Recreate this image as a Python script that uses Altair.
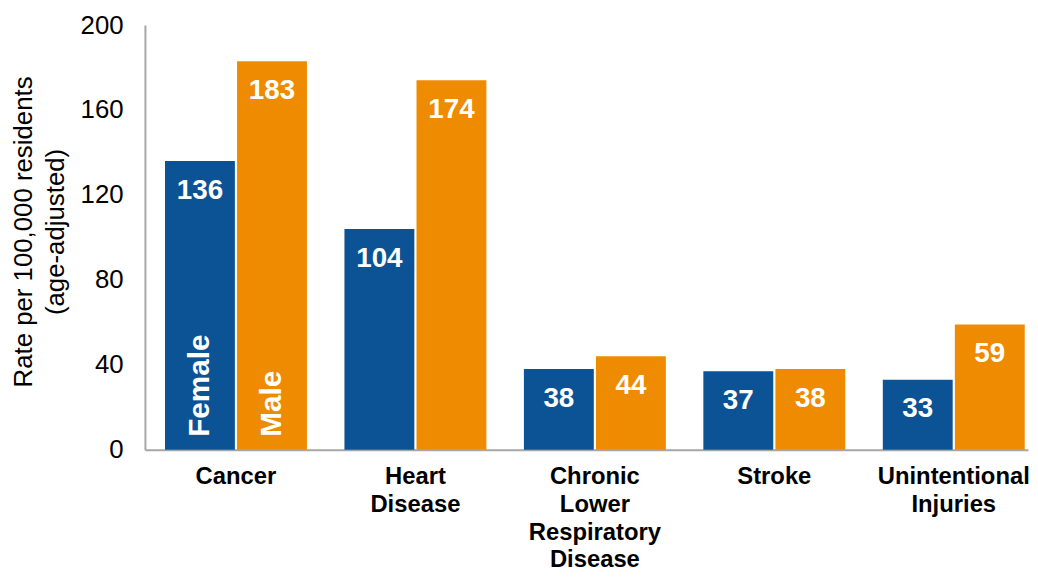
import altair as alt
import pandas as pd

# Data
categories = [
    "Cancer",
    "Heart\nDisease",
    "Chronic\nLower\nRespiratory\nDisease",
    "Stroke",
    "Unintentional\nInjuries",
]
female = [136, 104, 38, 37, 33]
male = [183, 174, 44, 38, 59]
sexes = ["Female", "Male"]
colors = ["#0B5394", "#EE8B00"]
y_ticks = [0, 40, 80, 120, 160, 200]
y_title = ["Rate per 100,000 residents", "(age-adjusted)"]

rows = []
for c, f, m in zip(categories, female, male):
    rows.append({"cause": c, "sex": "Female", "rate": f})
    rows.append({"cause": c, "sex": "Male", "rate": m})
df = pd.DataFrame(rows)

FONT = "Liberation Sans"

x_enc = alt.X(
    "cause:N",
    sort=categories,
    scale=alt.Scale(paddingInner=0.209, paddingOuter=0.065, align=0.86),
    axis=alt.Axis(
        title=None,
        labelAngle=0,
        labelExpr="split(datum.label, '\\n')",
        labelFont=FONT,
        labelFontSize=24,
        labelFontWeight="bold",
        labelColor="#000000",
        labelLineHeight=28,
        labelPadding=15,
        labelOverlap=False,
        labelBound=False,
        ticks=False,
        domainColor="#A6A6A6",
        domainWidth=2,
    ),
)
xoff_enc = alt.XOffset("sex:N", sort=sexes, scale=alt.Scale(paddingInner=0.03))
y_enc = alt.Y(
    "rate:Q",
    scale=alt.Scale(domain=[0, 200]),
    axis=alt.Axis(
        values=y_ticks,
        title=y_title,
        titleFont=FONT,
        titleFontSize=26,
        titleFontWeight="normal",
        titleColor="#000000",
        titleLineHeight=32,
        titleAngle=-90,
        titleAlign="center",
        titleBaseline="top",
        titleX=-135,
        titleY=208,
        labelFont=FONT,
        labelFontSize=26,
        labelColor="#000000",
        labelPadding=22,
        ticks=False,
        grid=False,
        domainColor="#A6A6A6",
        domainWidth=2,
    ),
)

base = alt.Chart(df)

bars = base.mark_bar().encode(
    x=x_enc,
    xOffset=xoff_enc,
    y=y_enc,
    color=alt.Color("sex:N", sort=sexes, scale=alt.Scale(domain=sexes, range=colors), legend=None),
)

values = base.mark_text(
    font=FONT, fontSize=28, fontWeight="bold", color="white", baseline="middle", dy=30
).encode(
    x=x_enc,
    xOffset=xoff_enc,
    y=y_enc,
    text=alt.Text("rate:Q"),
)

series_labels = base.transform_filter(
    alt.datum.cause == categories[0]
).mark_text(
    font=FONT, fontSize=30, fontWeight="bold", color="white",
    angle=270, align="left", baseline="middle", dx=13,
).encode(
    x=x_enc,
    xOffset=xoff_enc,
    y=alt.Y("zero:Q", scale=alt.Scale(domain=[0, 200])),
    text="sex:N",
).transform_calculate(zero="0")

chart = (
    alt.layer(bars, values, series_labels)
    .properties(
        width=890,
        height=428,
        autosize=alt.AutoSizeParams(type="none"),
        padding={"left": 138, "top": 15, "right": 2, "bottom": 125},
    )
    .configure_view(stroke=None)
)

chart.save("out.html", embed_options={"renderer": "svg", "actions": False})
